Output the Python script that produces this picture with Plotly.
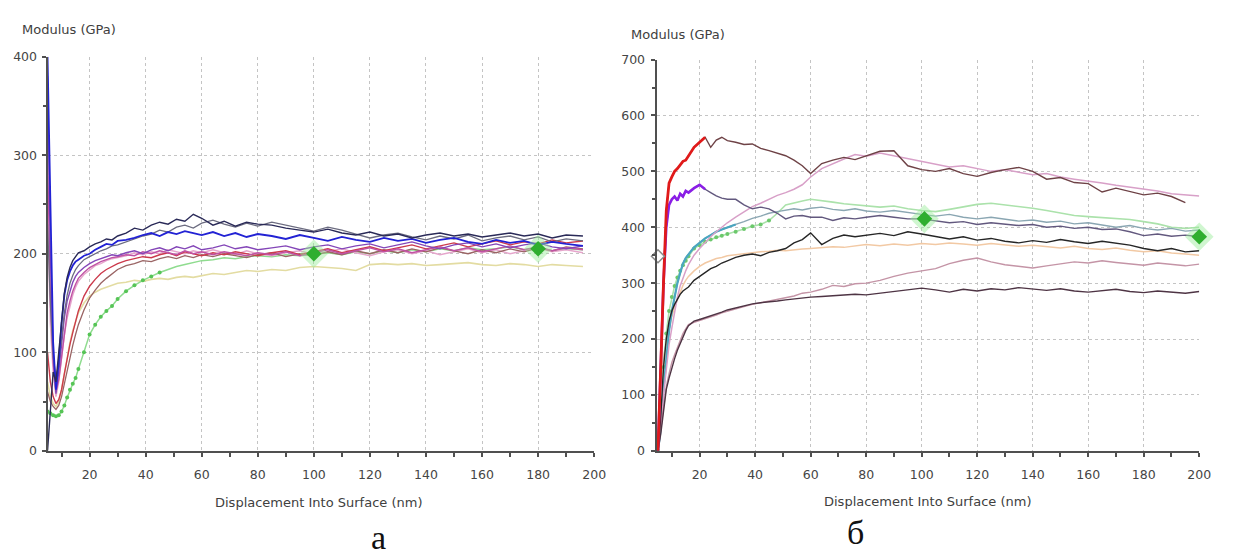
import plotly.graph_objects as go

# ---------------- panel (а): displacement grid and modulus curves ----------------
xa = [5, 6, 7, 8, 9, 10, 11, 12, 13, 14, 15, 16,
      18, 20, 22, 24, 26, 28, 30,
      33, 36, 39, 42, 45, 48, 51, 54, 57, 60,
      64, 68, 72, 76, 80,
      85, 90, 95, 100, 105, 110, 115, 120, 125, 130, 135, 140, 145, 150, 155,
      160, 165, 170, 175, 180, 185, 190, 196]

a_blue = [400, 240, 110, 62, 90, 130, 158, 173, 182, 188, 192, 194,
          198, 200, 204, 207, 210, 209, 213,
          214, 216, 219, 221, 218, 222, 220, 223, 221, 219,
          222, 218, 221, 217, 220,
          218, 215, 219, 216, 213, 217, 214, 212, 216, 213, 215, 211, 214, 216, 212,
          210, 214, 211, 213, 209, 212, 210, 208]
a_navy = [0, 45, 80, 70, 100, 135, 160, 176, 186, 193, 197, 201,
          203, 207, 210, 212, 215, 214, 218,
          221, 226, 224, 229, 232, 230, 235, 233, 240, 236,
          229, 233, 228, 232, 230,
          229, 226, 224, 222, 225, 221, 219, 222, 218, 220, 216, 219, 221, 218, 220,
          217, 219, 221, 218, 220, 216, 219, 218]
a_grey = [230, 150, 95, 75, 88, 115, 140, 158, 170, 178, 184, 188,
          194, 197, 200, 203, 205, 208, 209,
          212, 215, 218, 220, 224, 222, 227, 229, 226, 231,
          234, 230, 227, 231, 228,
          232, 229, 226, 223, 227, 224, 220, 216, 219, 221, 217, 214, 218, 215, 219,
          213, 216, 218, 214, 217, 212, 215, 213]
a_purple = [380, 200, 100, 58, 80, 110, 135, 152, 163, 171, 177, 181,
            186, 190, 193, 195, 197, 199, 198,
            201, 203, 200, 204, 206, 203, 207, 205, 208, 204,
            206, 209, 205, 207, 204,
            206, 208, 204, 207, 209, 205, 208, 210, 206, 209, 212, 208, 205, 209, 211,
            207, 210, 206, 209, 211, 207, 205, 208]
a_magenta = [300, 160, 90, 60, 72, 95, 120, 140, 152, 162, 169, 175,
             181, 186, 189, 192, 194, 196, 197,
             199, 198, 202, 200, 203, 201, 199, 203, 200, 202,
             199, 202, 200, 198, 201,
             199, 202, 198, 201, 204, 200, 203, 206, 202, 205, 201, 204, 207, 203, 206,
             202, 205, 208, 204, 207, 203, 206, 204]
a_pink = [250, 130, 80, 55, 70, 95, 118, 135, 148, 158, 166, 172,
          179, 184, 188, 190, 193, 195, 196,
          198, 201, 199, 202, 200, 204, 202, 200, 203, 201,
          204, 201, 199, 203, 200,
          198, 201, 203, 199, 202, 205, 201, 198, 202, 204, 200, 203, 199, 202, 205,
          201, 204, 200, 203, 206, 202, 204, 201]
a_red = [100, 70, 55, 48, 52, 62, 78, 94, 108, 120, 132, 142,
         157, 167, 174, 180, 184, 187, 190,
         193, 195, 197, 196, 199, 201, 198, 202, 200, 198,
         201, 199, 202, 200, 198,
         201, 203, 199, 202, 205, 201, 204, 207, 203, 206, 209, 205, 208, 211, 207,
         210, 213, 209, 212, 210, 214, 211, 213]
a_brown = [60, 50, 45, 42, 46, 55, 68, 82, 95, 107, 118, 128,
           143, 155, 163, 170, 175, 180, 184,
           188, 190, 193, 192, 195, 197, 195, 198, 196, 199,
           197, 200, 198, 196, 199,
           201, 197, 200, 198, 202, 199, 203, 200, 204, 201, 205, 202, 206, 203, 200,
           204, 201, 205, 202, 206, 203, 207, 205]
a_green = [40, 38, 36, 35, 36, 40, 46, 54, 62, 68, 74, 83,
           100, 118, 128, 136, 142, 147, 154,
           162, 168, 173, 177, 181, 184, 187, 189, 191, 193,
           194, 196, 195, 197, 198,
           197, 199, 198, 200, 201, 199, 202, 200, 203, 201, 204, 202, 205, 203, 206,
           204, 205, 207, 204, 206, 203, 205, 204]
a_beige = [70, 55, 48, 45, 50, 62, 78, 95, 110, 122, 132, 140,
           150, 157, 161, 164, 166, 168, 170,
           171, 173, 172, 174, 175, 174, 176, 177, 176, 178,
           180, 179, 181, 183, 182,
           184, 183, 186, 187, 186, 185, 183, 189, 190, 189, 190, 188, 189, 190, 191,
           189, 188, 190, 189, 187, 189, 188, 187]

# analysis-window markers
mark_a_x = [100, 180]
mark_a_y = [200, 205]

# ---------------- panel (б) ----------------
xb = [5, 6, 7, 8, 9, 10, 11, 12, 13, 14, 15, 16,
      18, 20, 22, 24, 26, 28, 30,
      33, 36, 39, 42, 45, 48, 51, 54, 57, 60,
      64, 68, 72, 76, 80,
      85, 90, 95, 100, 105, 110, 115, 120, 125, 130, 135, 140, 145, 150, 155,
      160, 165, 170, 175, 180, 185, 190, 195, 200]

b_red = [0, 160, 300, 430, 479, 490, 500, 505, 512, 518, 520, 528,
         543, 552, 561, 543, 556, 561, 555,
         552, 548, 549, 541, 537, 533, 528, 520, 510, 496,
         514, 520, 525, 521, 528,
         536, 537, 510, 503, 500, 505, 496, 491, 498, 503, 507, 500, 486, 489, 480,
         478, 463, 470, 464, 458, 461, 455, 444, None]
b_pink = [0, 40, 100, 150, 190, 220, 250, 275, 295, 310, 322, 333,
          350, 362, 373, 383, 392, 400, 408,
          418, 428, 437, 443, 450, 457, 462, 468, 476, 490,
          505, 514, 522, 530, 527,
          533, 528, 522, 517, 512, 508, 510, 505, 500, 503, 498, 494, 496, 490, 486,
          483, 479, 475, 472, 468, 465, 460, 458, 456]
b_violet = [0, 150, 300, 400, 440, 450, 455, 448, 460, 455, 465, 462,
            470, 476, 468, 462, 456, 452, 450,
            450, 440, 433, 436, 433, 425, 415, 420, 421, 418,
            418, 412, 417, 415, 418,
            421, 418, 415, 415, 412, 408, 410, 405, 408, 406, 403, 405, 400, 402, 398,
            400, 396, 397, 392, 385, 388, 384, 386, 383]
b_green = [0, 60, 150, 210, 250, 275, 295, 310, 322, 332, 340, 348,
           362, 368, 374, 378, 382, 385, 388,
           392, 397, 402, 405, 412, 425, 440, 444, 447, 450,
           448, 445, 442, 440, 438,
           436, 438, 433, 430, 428, 432, 436, 441, 443, 440, 438, 434, 430, 425, 421,
           419, 417, 416, 414, 410, 406, 400, 398, 400]
b_teal = [0, 40, 110, 170, 215, 250, 278, 300, 318, 335, 345, 352,
          364, 372, 380, 386, 392, 396, 400,
          405, 410, 416, 420, 425, 428, 430, 433, 431, 434,
          436, 432, 430, 433, 429,
          427, 430, 426, 423, 420, 423, 418, 415, 418, 414, 411, 413, 409, 411, 406,
          408, 404, 400, 403, 398, 395, 398, 393, 395]
b_black = [0, 60, 150, 200, 232, 250, 262, 272, 280, 286, 290, 293,
           305, 312, 320, 326, 330, 336, 340,
           346, 350, 352, 349, 355, 358, 362, 372, 378, 390,
           369, 380, 386, 383, 386,
           389, 385, 392, 388, 384, 379, 383, 377, 380, 375, 372, 376, 373, 378, 374,
           371, 375, 372, 368, 362, 358, 362, 356, 358]
b_orange = [0, 120, 170, 195, 220, 240, 258, 272, 285, 296, 305, 312,
            322, 330, 336, 340, 344, 346, 349,
            351, 353, 355, 356, 357, 359, 358, 360, 361, 362,
            363, 365, 364, 366, 369,
            367, 370, 368, 371, 369, 372, 370, 368, 371, 369, 366, 368, 365, 363, 366,
            362, 360, 363, 359, 356, 358, 354, 352, 350]
b_pinklow = [0, 40, 80, 115, 138, 158, 172, 186, 198, 210, 218, 226,
             230, 233, 236, 240, 243, 247, 250,
             254, 258, 262, 265, 268, 271, 274, 277, 282, 284,
             289, 296, 294, 299, 300,
             305, 312, 318, 322, 326, 335, 341, 345, 338, 333, 330, 327, 331, 335, 338,
             336, 340, 337, 334, 332, 336, 333, 331, 334]
b_maroon = [0, 30, 70, 110, 130, 150, 165, 180, 192, 205, 215, 224,
            232, 235, 238, 241, 245, 248, 252,
            256, 259, 263, 265, 266, 268, 270, 272, 273, 275,
            276, 277, 278, 280, 279,
            282, 284, 287, 291, 288, 284, 289, 286, 290, 288, 292, 289, 287, 290, 286,
            284, 287, 289, 285, 283, 286, 284, 282, 285]

mark_b_x = [101, 200]
mark_b_y = [415, 383]
start_b_x = [5]
start_b_y = [348]

for name, arr, grid in [("a_blue", a_blue, xa), ("a_navy", a_navy, xa), ("a_grey", a_grey, xa),
                        ("a_purple", a_purple, xa), ("a_magenta", a_magenta, xa), ("a_pink", a_pink, xa),
                        ("a_red", a_red, xa), ("a_brown", a_brown, xa), ("a_green", a_green, xa),
                        ("a_beige", a_beige, xa), ("b_red", b_red, xb), ("b_pink", b_pink, xb),
                        ("b_violet", b_violet, xb), ("b_green", b_green, xb), ("b_teal", b_teal, xb),
                        ("b_black", b_black, xb), ("b_orange", b_orange, xb),
                        ("b_pinklow", b_pinklow, xb), ("b_maroon", b_maroon, xb)]:
    assert len(arr) == len(grid), (name, len(arr), len(grid))

W, H = 1237, 560
fig = go.Figure()


def curve(x, y, color, width=1.4, ax="x", ay="y", mode="lines", msize=3):
    fig.add_trace(go.Scatter(
        x=x, y=y, mode=mode, xaxis=ax, yaxis=ay,
        line=dict(color=color, width=width, shape="linear"),
        marker=dict(color=color, size=msize),
        showlegend=False, hoverinfo="skip", connectgaps=False,
    ))


# panel (а) curves, light ones underneath
curve(xa, a_beige, "#e3dca2", 1.6)
curve(xa, a_green, "#8fdc8f", 1.5)
curve(xa[:24], a_green[:24], "#56c456", 1, mode="markers", msize=4)
curve(xa, a_pink, "#e6a6cc", 1.5)
curve(xa, a_brown, "#9a6464", 1.3)
curve(xa, a_red, "#cc3a4c", 1.4)
curve(xa, a_magenta, "#c052a4", 1.4)
curve(xa, a_purple, "#8446b8", 1.4)
curve(xa, a_grey, "#6c6c80", 1.3)
curve(xa, a_blue, "#2222d4", 1.8)
curve(xa, a_navy, "#2a2a58", 1.4)

for gx, gy, s, c in [(mark_a_x, mark_a_y, 22, "rgba(150,235,150,0.45)"),
                     (mark_a_x, mark_a_y, 12, "#2fae2f")]:
    fig.add_trace(go.Scatter(x=gx, y=gy, mode="markers", xaxis="x", yaxis="y",
                             marker=dict(symbol="diamond", size=s, color=c),
                             showlegend=False, hoverinfo="skip"))

# panel (б) curves
curve(xb, b_orange, "#f2c9a4", 1.5, "x2", "y2")
curve(xb, b_green, "#abe2ab", 1.6, "x2", "y2")
curve(xb[:24], b_green[:24], "#6cc86c", 1, "x2", "y2", mode="markers", msize=4)
curve(xb, b_teal, "#8aa6b2", 1.4, "x2", "y2")
curve(xb[:20], b_teal[:20], "#4aa6c0", 2.2, "x2", "y2")
curve(xb, b_pink, "#d8a0c8", 1.5, "x2", "y2")
curve(xb, b_pinklow, "#c494a6", 1.4, "x2", "y2")
curve(xb, b_maroon, "#4e3444", 1.4, "x2", "y2")
curve(xb, b_black, "#262626", 1.4, "x2", "y2")
curve(xb, b_violet, "#62587e", 1.4, "x2", "y2")
curve(xb[:15], b_violet[:15], "#8a1ee6", 2.6, "x2", "y2")
curve(xb, b_red, "#6e4246", 1.4, "x2", "y2")
curve(xb[:15], b_red[:15], "#e01a1a", 2.8, "x2", "y2")

for gx, gy, s, c in [(mark_b_x, mark_b_y, 22, "rgba(150,235,150,0.45)"),
                     (mark_b_x, mark_b_y, 12, "#2fae2f")]:
    fig.add_trace(go.Scatter(x=gx, y=gy, mode="markers", xaxis="x2", yaxis="y2",
                             marker=dict(symbol="diamond", size=s, color=c),
                             cliponaxis=False, showlegend=False, hoverinfo="skip"))
fig.add_trace(go.Scatter(x=start_b_x, y=start_b_y, mode="markers", xaxis="x2", yaxis="y2",
                         marker=dict(symbol="diamond", size=10, color="white",
                                     line=dict(color="#8a8a8a", width=1.5)),
                         cliponaxis=False, showlegend=False, hoverinfo="skip"))

TICK_FONT = dict(family="DejaVu Sans, Verdana, sans-serif", size=12.5, color="#454545")
AX = dict(showline=True, linecolor="#505050", linewidth=2, zeroline=False,
          showgrid=True, gridcolor="#c4c4c4", griddash="dot", gridwidth=1.2,
          ticks="outside", ticklen=4, tickcolor="#505050", tickwidth=1.5,
          tickfont=TICK_FONT, fixedrange=True)

xdom_a = [48 / W, 600 / W]
ydom_a = [1 - 455 / H, 1 - 50 / H]
xdom_b = [663 / W, 1211 / W]
ydom_b = [1 - 455 / H, 1 - 53 / H]

MINOR_X = dict(ticks="outside", ticklen=4, dtick=10, tick0=0, tickwidth=2,
               tickcolor="#505050", showgrid=False)
MINOR_Y = dict(ticks="outside", ticklen=3, dtick=50, tickwidth=1.5,
               tickcolor="#505050", showgrid=False)

fig.update_layout(
    width=W, height=H, autosize=False,
    margin=dict(l=0, r=0, t=0, b=0),
    paper_bgcolor="white", plot_bgcolor="white",
    xaxis=dict(AX, domain=xdom_a, range=[5, 200], tick0=0, dtick=20, anchor="y",
               ticklabelstandoff=7, minor=MINOR_X),
    yaxis=dict(AX, domain=ydom_a, range=[0, 400], dtick=100, anchor="x",
               ticklabelstandoff=2, minor=MINOR_Y),
    xaxis2=dict(AX, domain=xdom_b, range=[4.5, 200], tick0=0, dtick=20, anchor="y2",
                ticklabelstandoff=7, minor=MINOR_X),
    yaxis2=dict(AX, domain=ydom_b, range=[0, 700], dtick=100, anchor="x2",
                ticklabelstandoff=3, minor=MINOR_Y),
)

TITLE_FONT = dict(family="DejaVu Sans, Verdana, sans-serif", size=13, color="#404040")
LETTER_FONT = dict(family="Liberation Serif, DejaVu Serif, serif", size=34, color="#111111")


def label(text, px, py, font, xanchor="center"):
    fig.add_annotation(text=text, x=px / W, y=1 - py / H, xref="paper", yref="paper",
                       xanchor=xanchor, yanchor="middle", showarrow=False, font=font)


label("Modulus (GPa)", 20, 22, TITLE_FONT, "left")
label("Modulus (GPa)", 635, 27, TITLE_FONT, "left")
label("Displacement Into Surface (nm)", 322, 508, TITLE_FONT)
label("Displacement Into Surface (nm)", 937, 507, TITLE_FONT)
label("а", 382, 544, LETTER_FONT)
label("б", 864, 539, LETTER_FONT)

fig.write_html("out.html")
